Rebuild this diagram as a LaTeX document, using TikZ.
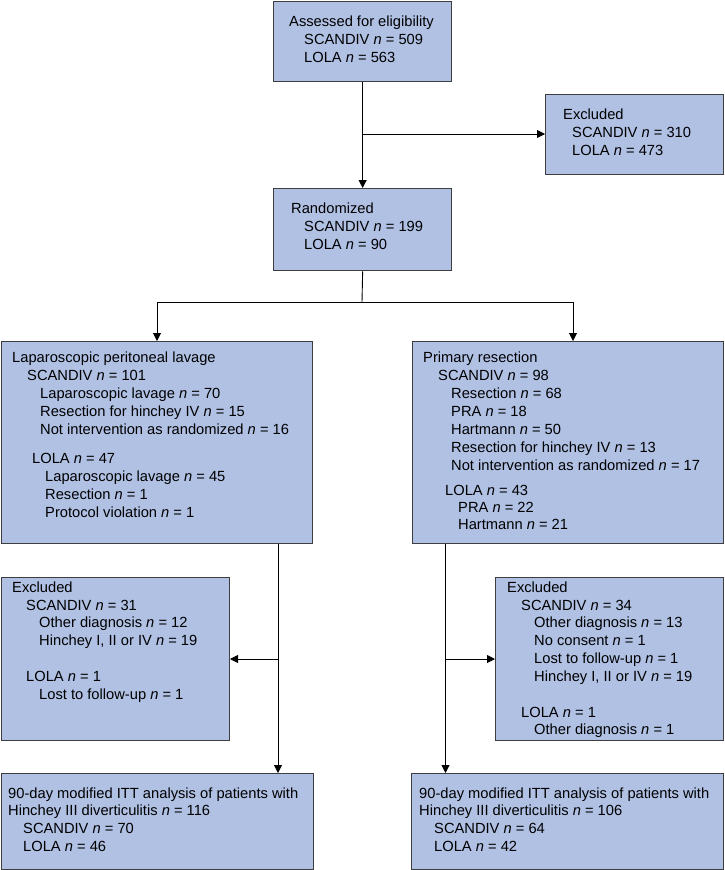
\documentclass[tikz,border=0pt]{standalone}
\usepackage{fontspec}
\setmainfont{Liberation Sans}
\usetikzlibrary{arrows.meta}
\definecolor{boxfill}{RGB}{176,193,228}
\definecolor{boxline}{RGB}{62,62,62}
\newcommand{\nn}[1]{\textit{n} = #1}
\newcounter{lc}
\newcommand{\tline}[3]{\stepcounter{lc}\node[txt] (line\thelc) at (#1,#2) {#3};}
\begin{document}
\begin{tikzpicture}[x=1pt,y=-1pt,
 box/.style={draw=boxline,fill=boxfill,line width=1.3pt,rectangle,inner sep=0pt,anchor=north west},
 txt/.style={anchor=base west,inner sep=0pt,font=\fontsize{14.7}{18}\selectfont},
 conn/.style={line width=0.9pt,black},
 arr/.style={conn,-{Triangle[length=8pt,width=8pt]}}]
\useasboundingbox (0,0) rectangle (724,870);

% boxes
\node[box,minimum width=178pt,minimum height=80pt] (ass) at (273,0.7) {};
\node[box,minimum width=178pt,minimum height=80pt] (exc) at (545,94) {};
\node[box,minimum width=178pt,minimum height=82pt] (ran) at (273,188) {};
\node[box,minimum width=311pt,minimum height=202pt] (lap) at (0.7,341) {};
\node[box,minimum width=311pt,minimum height=202pt] (pr) at (412,341) {};
\node[box,minimum width=228pt,minimum height=163pt] (exl) at (0.7,577) {};
\node[box,minimum width=228pt,minimum height=163pt] (exr) at (495,577) {};
\node[box,minimum width=312pt,minimum height=96pt] (botl) at (0.7,773) {};
\node[box,minimum width=312pt,minimum height=96pt] (botr) at (411,773) {};

% texts
\tline{289}{26}{Assessed for eligibility}
\tline{304}{44}{SCANDIV \nn{509}}
\tline{304}{62}{LOLA \nn{563}}

\tline{563}{119}{Excluded}
\tline{572}{137}{SCANDIV \nn{310}}
\tline{572}{155}{LOLA \nn{473}}

\tline{291}{213}{Randomized}
\tline{304}{231}{SCANDIV \nn{199}}
\tline{304}{249}{LOLA \nn{90}}

\tline{12}{362}{Laparoscopic peritoneal lavage}
\tline{27}{380}{SCANDIV \nn{101}}
\tline{40}{398}{Laparoscopic lavage \nn{70}}
\tline{40}{416}{Resection for hinchey IV \nn{15}}
\tline{40}{434}{Not intervention as randomized \nn{16}}
\tline{32}{463}{LOLA \nn{47}}
\tline{45}{481}{Laparoscopic lavage \nn{45}}
\tline{45}{499}{Resection \nn{1}}
\tline{45}{517}{Protocol violation \nn{1}}

\tline{423}{362}{Primary resection}
\tline{438}{380}{SCANDIV \nn{98}}
\tline{451}{398}{Resection \nn{68}}
\tline{451}{416}{PRA \nn{18}}
\tline{451}{434}{Hartmann \nn{50}}
\tline{451}{452}{Resection for hinchey IV \nn{13}}
\tline{451}{470}{Not intervention as randomized \nn{17}}
\tline{445}{495}{LOLA \nn{43}}
\tline{458}{512}{PRA \nn{22}}
\tline{458}{529}{Hartmann \nn{21}}

\tline{12}{592}{Excluded}
\tline{26}{610}{SCANDIV \nn{31}}
\tline{39}{627}{Other diagnosis \nn{12}}
\tline{39}{645}{Hinchey I, II or IV \nn{19}}
\tline{26}{681}{LOLA \nn{1}}
\tline{39}{699}{Lost to follow-up \nn{1}}

\tline{507}{592}{Excluded}
\tline{521}{610}{SCANDIV \nn{34}}
\tline{534}{627}{Other diagnosis \nn{13}}
\tline{534}{645}{No consent \nn{1}}
\tline{534}{663}{Lost to follow-up \nn{1}}
\tline{534}{681}{Hinchey I, II or IV \nn{19}}
\tline{521}{717}{LOLA \nn{1}}
\tline{534}{734}{Other diagnosis \nn{1}}

\tline{8}{798}{90-day modified ITT analysis of patients with}
\tline{8}{815}{Hinchey III diverticulitis \nn{116}}
\tline{23}{833}{SCANDIV \nn{70}}
\tline{23}{851}{LOLA \nn{46}}

\tline{419}{798}{90-day modified ITT analysis of patients with}
\tline{419}{815}{Hinchey III diverticulitis \nn{106}}
\tline{434}{833}{SCANDIV \nn{64}}
\tline{434}{851}{LOLA \nn{42}}

% connectors
\coordinate (b1) at (362,134);
\draw[arr] (ass.south) -- (ran.north);
\draw[arr] (b1) -- (b1 -| exc.west);

\coordinate (sp) at (362,302);
\coordinate (spl) at (157,302);
\coordinate (spr) at (573,302);
\draw[conn] (ran.south) -- (sp);
\draw[conn] (spl) -- (spr);
\draw[arr] (spl) -- (lap.north -| spl);
\draw[arr] (spr) -- (pr.north -| spr);

\coordinate (lx) at (278,659);
\draw[arr] (lap.south -| lx) -- (botl.north -| lx);
\draw[arr] (lx) -- (lx -| exl.east);

\coordinate (rx) at (445.5,659);
\draw[arr] (pr.south -| rx) -- (botr.north -| rx);
\draw[arr] (rx) -- (rx -| exr.west);
\end{tikzpicture}
\end{document}
